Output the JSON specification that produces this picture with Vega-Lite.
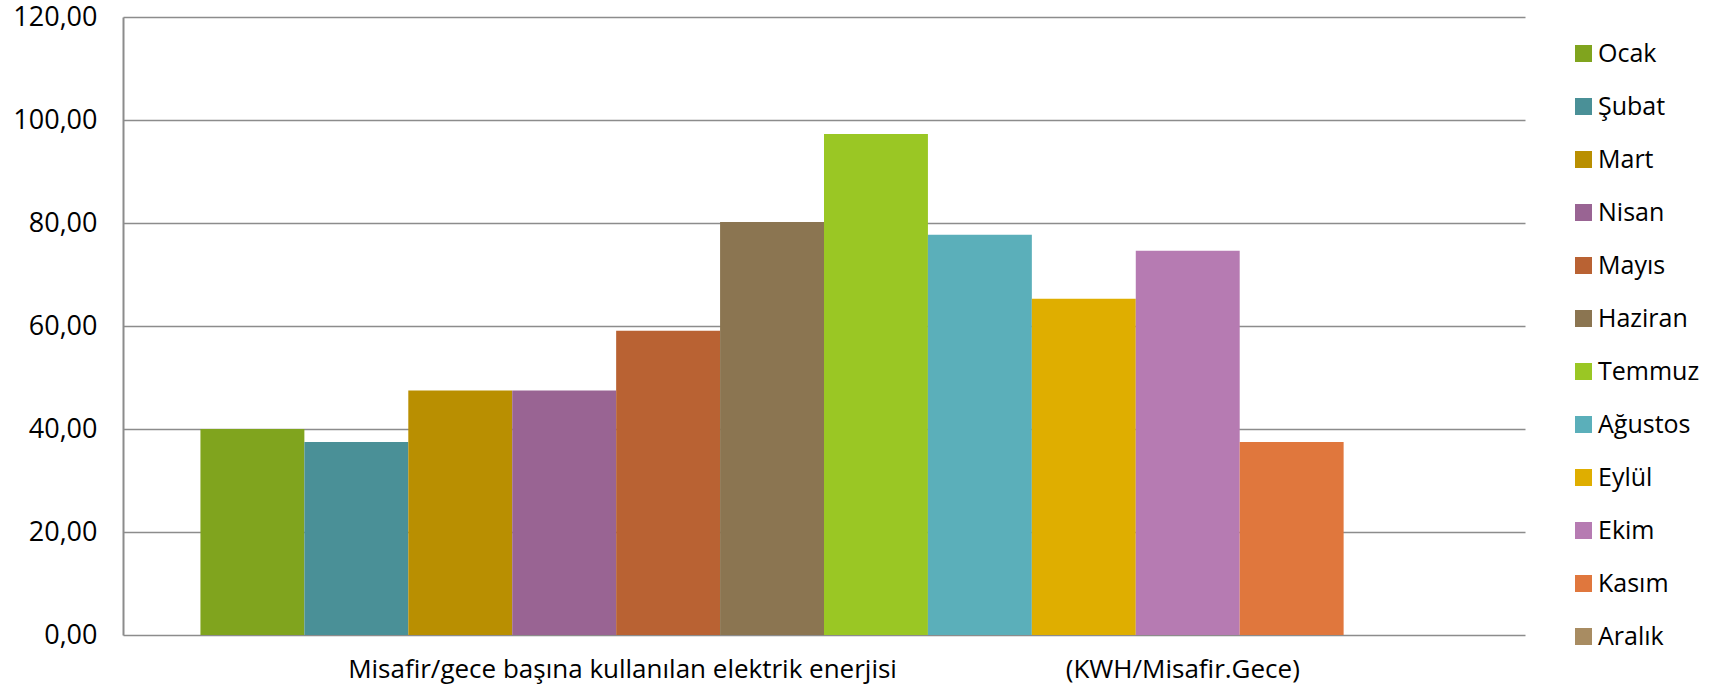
{
  "$schema": "https://vega.github.io/schema/vega-lite/v6.json",
  "autosize": {"type": "none"},
  "padding": {"left": 123, "top": 17, "right": 186, "bottom": 61},
  "width": 1402,
  "height": 618,
  "background": "white",
  "config": {
    "locale": {"number": {"decimal": ",", "thousands": ".", "grouping": [3], "currency": ["", " TL"]}},
    "view": {"stroke": null},
    "font": "Open Sans"
  },
  "data": {
    "values": [
      {"kategori": "Misafir/gece başına kullanılan elektrik enerjisi (KWH/Misafir.Gece)", "ay": "Ocak", "deger": 40.0},
      {"kategori": "Misafir/gece başına kullanılan elektrik enerjisi (KWH/Misafir.Gece)", "ay": "Şubat", "deger": 37.5},
      {"kategori": "Misafir/gece başına kullanılan elektrik enerjisi (KWH/Misafir.Gece)", "ay": "Mart", "deger": 47.5},
      {"kategori": "Misafir/gece başına kullanılan elektrik enerjisi (KWH/Misafir.Gece)", "ay": "Nisan", "deger": 47.5},
      {"kategori": "Misafir/gece başına kullanılan elektrik enerjisi (KWH/Misafir.Gece)", "ay": "Mayıs", "deger": 59.1},
      {"kategori": "Misafir/gece başına kullanılan elektrik enerjisi (KWH/Misafir.Gece)", "ay": "Haziran", "deger": 80.2},
      {"kategori": "Misafir/gece başına kullanılan elektrik enerjisi (KWH/Misafir.Gece)", "ay": "Temmuz", "deger": 97.3},
      {"kategori": "Misafir/gece başına kullanılan elektrik enerjisi (KWH/Misafir.Gece)", "ay": "Ağustos", "deger": 77.7},
      {"kategori": "Misafir/gece başına kullanılan elektrik enerjisi (KWH/Misafir.Gece)", "ay": "Eylül", "deger": 65.3},
      {"kategori": "Misafir/gece başına kullanılan elektrik enerjisi (KWH/Misafir.Gece)", "ay": "Ekim", "deger": 74.6},
      {"kategori": "Misafir/gece başına kullanılan elektrik enerjisi (KWH/Misafir.Gece)", "ay": "Kasım", "deger": 37.5},
      {"kategori": "Misafir/gece başına kullanılan elektrik enerjisi (KWH/Misafir.Gece)", "ay": "Aralık", "deger": null}
    ]
  },
  "mark": {"type": "bar"},
  "encoding": {
    "x": {
      "field": "kategori",
      "type": "nominal",
      "scale": {"paddingInner": 0, "paddingOuter": 0.0621},
      "axis": {
        "title": null,
        "domain": false,
        "ticks": false,
        "labelAngle": 0,
        "labelFontSize": 26,
        "labelColor": "#000000",
        "labelPadding": 21,
        "labelLimit": 0,
        "labelExpr": "'Misafir/gece başına kullanılan elektrik enerjisi\u00a0\u00a0\u00a0\u00a0\u00a0\u00a0\u00a0\u00a0\u00a0\u00a0\u00a0\u00a0\u00a0\u00a0\u00a0\u00a0\u00a0\u00a0\u00a0\u00a0\u00a0\u00a0\u00a0\u00a0\u00a0(KWH/Misafir.Gece)'"
      }
    },
    "xOffset": {
      "field": "ay",
      "type": "nominal",
      "scale": {
        "domain": ["Ocak", "Şubat", "Mart", "Nisan", "Mayıs", "Haziran", "Temmuz", "Ağustos", "Eylül", "Ekim", "Kasım", "Aralık"],
        "paddingInner": 0,
        "paddingOuter": 0
      }
    },
    "y": {
      "field": "deger",
      "type": "quantitative",
      "scale": {"domain": [0, 120], "nice": false},
      "axis": {
        "title": null,
        "values": [0, 20, 40, 60, 80, 100, 120],
        "format": ".2f",
        "ticks": false,
        "domain": true,
        "domainColor": "#8c8c8c",
        "domainWidth": 2,
        "grid": true,
        "gridColor": "#8c8c8c",
        "gridWidth": 1.5,
        "labelFontSize": 27,
        "labelColor": "#000000",
        "labelPadding": 26
      }
    },
    "color": {
      "field": "ay",
      "type": "nominal",
      "scale": {
        "domain": ["Ocak", "Şubat", "Mart", "Nisan", "Mayıs", "Haziran", "Temmuz", "Ağustos", "Eylül", "Ekim", "Kasım", "Aralık"],
        "range": ["#80A41E", "#4A9097", "#B98F01", "#996493", "#B96233", "#8B7551", "#9AC724", "#5BAFBA", "#DFAE00", "#B67BB2", "#E0773D", "#A88C62"]
      },
      "legend": {
        "title": null,
        "orient": "none",
        "legendX": 1448,
        "legendY": 24,
        "symbolType": "square",
        "symbolSize": 289,
        "symbolStrokeWidth": 0,
        "labelFontSize": 25,
        "labelColor": "#000000",
        "labelOffset": 2,
        "rowPadding": 27,
        "labelLimit": 300
      }
    }
  }
}
